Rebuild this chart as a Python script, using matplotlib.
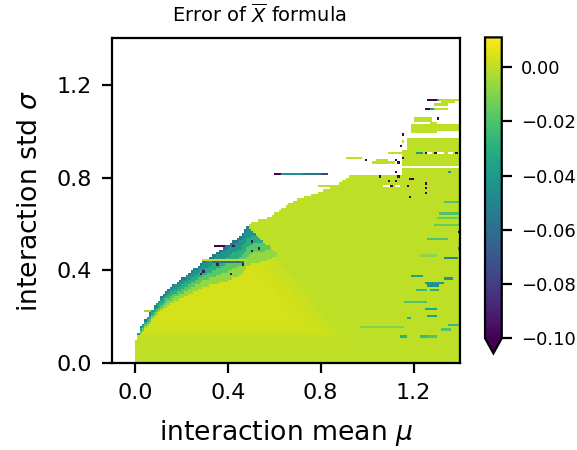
import numpy as np
import matplotlib
matplotlib.use("Agg")
from matplotlib import pyplot as plt

# grid of the scan (cell edges)
mu_edges = np.linspace(0, 1.4, 141)
sig_edges = np.linspace(0, 1.4, 141)

# outer outline of the computed region (mu -> top sigma)
outline_mu = [0.0, 0.005, 0.025, 0.082, 0.14, 0.226, 0.297, 0.37, 0.456, 0.487,
              0.513, 0.556, 0.60, 0.628, 0.656, 0.70, 0.786, 0.843, 0.886, 0.922, 0.935, 1.40]
outline_sig = [0.066, 0.10, 0.158, 0.245, 0.317, 0.382, 0.44, 0.49, 0.548, 0.598,
               0.613, 0.62, 0.642, 0.663, 0.681, 0.704, 0.735, 0.757, 0.779, 0.805, 0.81, 0.81]

# right edge of the noisy lobe (sigma -> mu)
diag_sig = [0.0, 0.065, 0.144, 0.288, 0.433, 0.59, 0.7]
diag_mu = [1.0, 0.98, 0.885, 0.77, 0.65, 0.487, 0.40]
lobe_bottom = 0.065

# thickness of the dark rim of the lobe
rim_mu = [0.0, 0.1, 0.2, 0.3, 0.4, 0.5, 0.6]
rim_w = [0.02, 0.04, 0.06, 0.08, 0.11, 0.13, 0.13]
# error by depth below the rim (in rim widths)
depth_edges = [0.15, 0.45, 0.75, 1.05, 1.4]
depth_vals = [-0.055, -0.042, -0.03, -0.018, -0.007, 0.004]
flat_val = 0.0

# purple specks inside the lobe (mu, sigma)
speck_mu = [0.506, 0.52, 0.535, 0.506, 0.49, 0.456, 0.427, 0.391, 0.355, 0.37, 0.312, 0.298,
            0.326, 0.34, 0.283, 0.24, 0.413, 0.37, 0.463, 0.125, 0.14, 0.19, 0.226, 0.017,
            0.053, 0.11, 0.355]
speck_sig = [0.527, 0.512, 0.498, 0.484, 0.462, 0.49, 0.505, 0.534, 0.505, 0.498, 0.462, 0.397,
             0.39, 0.383, 0.383, 0.332, 0.383, 0.368, 0.426, 0.31, 0.324, 0.367, 0.389, 0.144,
             0.209, 0.295, 0.425]

# rectangles: mu0, mu1, sigma0, sigma1, value (nan = no solution)
blk_mu0 = [1.257, 1.296, 1.31, 1.318, 1.292, 1.249, 1.274, 1.292, 1.305, 1.22, 1.196, 1.267,
           1.188, 1.30, 1.155, 1.155, 1.145, 1.174, 1.088, 1.15, 1.206, 1.246, 1.257, 1.29,
           1.30, 1.353, 1.378, 0.908, 1.045, 1.016, 0.995, 1.125, 1.135, 1.152, 1.155, 1.145,
           1.152, 1.355, 1.055, 1.125, 1.135, 1.185, 1.09, 1.125, 1.075, 1.10, 1.12, 1.17,
           1.255, 1.255, 1.248, 1.176, 0.786, 0.60, 0.63, 0.72, 0.80,
           0.337, 0.29, 0.326, 0.04]
blk_mu1 = [1.296, 1.31, 1.40, 1.382, 1.354, 1.274, 1.292, 1.354, 1.315, 1.249, 1.282, 1.303,
           1.40, 1.40, 1.165, 1.165, 1.155, 1.40, 1.15, 1.40, 1.239, 1.256, 1.282, 1.30,
           1.332, 1.375, 1.388, 0.976, 1.095, 1.117, 1.005, 1.135, 1.145, 1.40, 1.165, 1.387,
           1.40, 1.365, 1.065, 1.135, 1.145, 1.195, 1.10, 1.135, 1.10, 1.115, 1.14, 1.18,
           1.265, 1.265, 1.258, 1.186, 0.87, 0.63, 0.72, 0.80, 0.835,
           0.39, 0.485, 0.47, 0.07]
blk_s0 = [1.135, 1.135, 1.135, 1.12, 1.11, 1.09, 1.09, 1.09, 1.05, 1.055, 1.036, 1.026,
          0.99, 0.99, 0.98, 0.95, 0.93, 0.916, 0.90, 0.895, 0.90, 0.90, 0.90, 0.90,
          0.90, 0.90, 0.90, 0.885, 0.875, 0.86, 0.87, 0.875, 0.865, 0.848, 0.885, 0.837,
          0.81, 0.825, 0.805, 0.82, 0.805, 0.795, 0.78, 0.78, 0.757, 0.757, 0.757, 0.757,
          0.77, 0.75, 0.728, 0.71, 0.76, 0.815, 0.815, 0.815, 0.815,
          0.50, 0.44, 0.43, 0.225]
blk_s1 = [1.145, 1.145, 1.145, 1.135, 1.12, 1.10, 1.10, 1.10, 1.06, 1.065, 1.056, 1.04,
          1.026, 1.0, 0.99, 0.96, 0.94, 0.967, 0.91, 0.916, 0.91, 0.91, 0.91, 0.91,
          0.91, 0.91, 0.91, 0.895, 0.885, 0.87, 0.88, 0.885, 0.875, 0.887, 0.895, 0.848,
          0.837, 0.835, 0.815, 0.83, 0.815, 0.805, 0.79, 0.79, 0.77, 0.77, 0.77, 0.77,
          0.78, 0.76, 0.738, 0.72, 0.77, 0.825, 0.825, 0.825, 0.825,
          0.51, 0.45, 0.44, 0.235]
blk_val = [-0.1, -0.04, 0.0, 0.0, 0.0, -0.1, -0.04, 0.0, -0.1, 0.0, 0.0, 0.0,
           0.0, np.nan, -0.1, 0.0, -0.1, 0.0, 0.0, 0.0, -0.04, -0.1, np.nan, -0.1,
           np.nan, np.nan, -0.1, 0.0, 0.0, 0.0, -0.1, -0.1, -0.1, 0.0, -0.1, np.nan,
           0.0, -0.04, -0.1, -0.1, -0.1, -0.1, -0.1, -0.1, np.nan, -0.1, np.nan, -0.1,
           -0.1, -0.1, -0.1, -0.1, 0.0, -0.1, -0.045, -0.055, -0.08,
           -0.1, 0.0, -0.06, -0.005]

# single-row streaks in the flat region: sigma, mu0, mu1, value
strk_sig = [0.692, 0.642, 0.62, 0.594, 0.562, 0.53, 0.49, 0.461, 0.451, 0.37, 0.36, 0.345,
            0.335, 0.31, 0.31, 0.26, 0.238, 0.202, 0.19, 0.166, 0.155, 0.141, 0.119, 0.119, 0.112]
strk_mu0 = [1.332, 1.311, 1.296, 1.289, 1.388, 1.26, 1.39, 1.232, 1.335, 1.186, 1.335, 1.246,
            1.26, 1.206, 1.275, 1.157, 1.253, 1.263, 1.167, 1.347, 0.973, 1.318, 1.138, 1.253, 1.232]
strk_mu1 = [1.40, 1.40, 1.397, 1.397, 1.40, 1.354, 1.40, 1.296, 1.387, 1.236, 1.368, 1.332,
            1.31, 1.258, 1.315, 1.258, 1.296, 1.296, 1.186, 1.397, 1.16, 1.361, 1.174, 1.304, 1.263]
strk_val = [-0.02, -0.02, -0.015, -0.015, -0.1, -0.02, -0.05, -0.008, -0.05, -0.035, -0.04, -0.04,
            -0.045, -0.025, -0.03, -0.02, -0.035, -0.035, -0.03, -0.025, -0.01, -0.02, -0.03, -0.02, -0.025]

# ---- rasterise onto the grid
mc = 0.5 * (mu_edges[1:] + mu_edges[:-1])
sc = 0.5 * (sig_edges[1:] + sig_edges[:-1])
M, S = np.meshgrid(mc, sc)
Z = np.full(M.shape, np.nan)

top = np.interp(M, outline_mu, outline_sig)
valid = S <= top
Z[valid] = flat_val

gap = np.interp(S, diag_sig, diag_mu) - M
lobe = valid & (S >= lobe_bottom) & (gap > 0)
t = (top - S) / np.interp(M, rim_mu, rim_w)
v = np.array(depth_vals)[np.digitize(t, depth_edges)]
v = np.where(S < 0.12, 0.001, v)
v = np.where((S < 0.16) & (v > 0.0025), 0.0025, v)
v = np.where((gap < 0.15) & (v > 0.003), 0.003, v)
v = np.where((gap < 0.08) & (v > 0.0015), 0.0015, v)
v = np.where((gap < 0.03) & (v > 0), flat_val, v)
Z[lobe] = v[lobe]

for a, s in zip(speck_mu, speck_sig):
    m = (np.abs(M - a) <= 0.005) & (np.abs(S - s) <= 0.005) & valid
    Z[m] = -0.095
for s, a, b, val in zip(strk_sig, strk_mu0, strk_mu1, strk_val):
    m = (S > s - 0.005) & (S <= s + 0.005) & (M >= a) & (M < b)
    Z[m] = val
for a, b, s0, s1, val in zip(blk_mu0, blk_mu1, blk_s0, blk_s1, blk_val):
    m = (M >= a) & (M < b) & (S >= s0) & (S < s1)
    Z[m] = val

Z = np.ma.masked_invalid(Z)

fig = plt.figure(figsize=(2.885, 2.25), dpi=200)
ax = fig.add_axes([0.1924, 0.1927, 0.606, 0.7222])
pc = ax.pcolormesh(mu_edges, sig_edges, Z, cmap="viridis", vmin=-0.1, vmax=0.011)
ax.set_xlim(-0.1, 1.4)
ax.set_ylim(0, 1.4)
ax.set_aspect("equal")
ax.set_xticks([0.0, 0.4, 0.8, 1.2])
ax.set_yticks([0.0, 0.4, 0.8, 1.2])
ax.tick_params(labelsize=8)
ax.set_xlabel(r"interaction mean $\mu$", fontsize=9.6, labelpad=5.5)
ax.set_ylabel(r"interaction std $\sigma$", fontsize=9.6, labelpad=5)

cax = fig.add_axes([0.8406, 0.2149, 0.029, 0.702])
cb = fig.colorbar(pc, cax=cax, extend="min", ticks=[-0.1, -0.08, -0.06, -0.04, -0.02, 0.0])
cb.ax.set_yticklabels(["\u22120.10", "\u22120.08", "\u22120.06", "\u22120.04", "\u22120.02", "0.00"])
cb.ax.tick_params(labelsize=6.5)

fig.text(0.45, 0.967, r"Error of $\overline{X}$ formula", fontsize=7, ha="center", va="center")

fig.savefig("out.png", dpi=200)
